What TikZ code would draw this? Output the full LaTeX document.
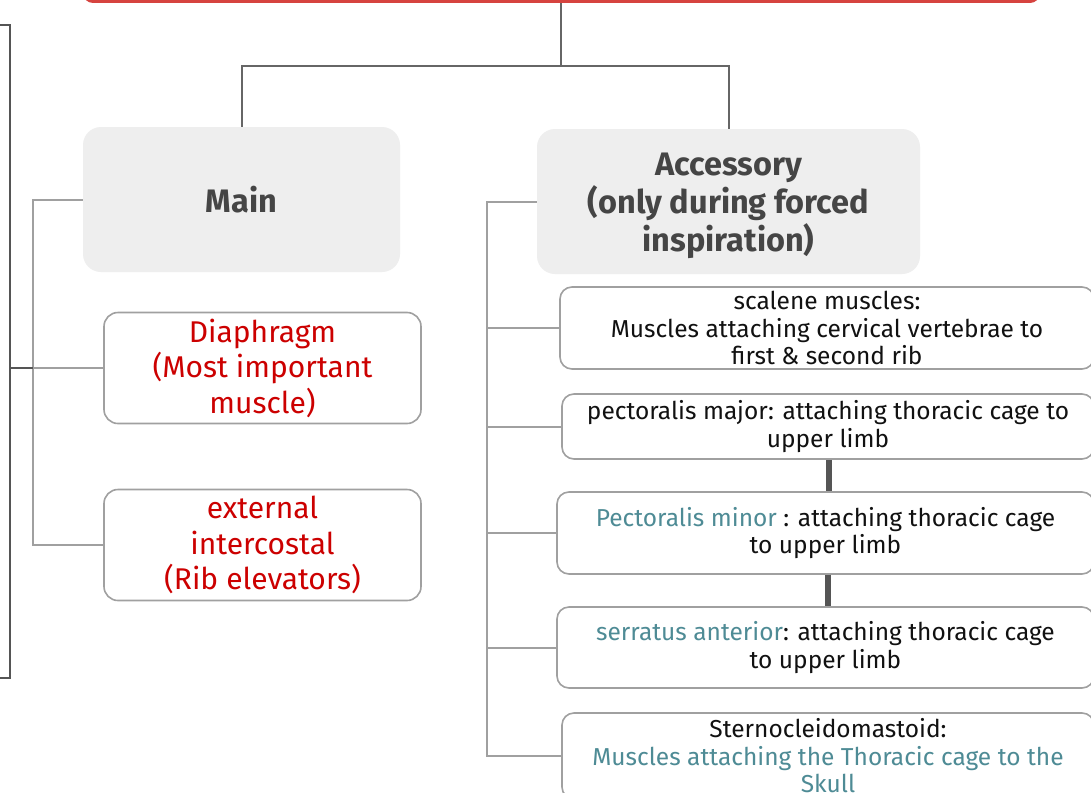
\documentclass[tikz,border=0pt]{standalone}
\usepackage{fontspec}
\setmainfont{Fira Sans}
\usetikzlibrary{calc}
\definecolor{redbar}{HTML}{D6433F}
\definecolor{headgray}{HTML}{454545}
\definecolor{boxfill}{HTML}{EEEEEE}
\definecolor{boxline}{HTML}{A0A0A0}
\definecolor{treeline}{HTML}{666666}
\definecolor{darkline}{HTML}{555555}
\definecolor{redtext}{HTML}{CC0000}
\definecolor{tealtext}{HTML}{4E8B95}
\definecolor{bodytext}{HTML}{111111}
\tikzset{
  headbox/.style={rectangle, rounded corners=18pt, fill=boxfill, draw=none,
    text=headgray, align=center, inner sep=0pt,
    font=\fontsize{32.5pt}{38pt}\selectfont\bfseries},
  redbox/.style={rectangle, rounded corners=14pt, fill=white, draw=boxline, line width=1.6pt,
    text=redtext, align=center, inner sep=0pt,
    font=\fontsize{30pt}{35.5pt}\selectfont},
  itembox/.style={rectangle, rounded corners=12pt, fill=white, draw=boxline, line width=1.6pt,
    text=bodytext, align=center, inner sep=0pt,
    font=\fontsize{24.5pt}{27.5pt}\selectfont},
  tree/.style={draw=treeline, line width=2pt},
  spine/.style={draw=boxline, line width=2pt},
  bracket/.style={draw=darkline, line width=2pt},
  thick link/.style={draw=darkline, line width=6.5pt},
}
\begin{document}
\begin{tikzpicture}[x=1pt,y=-1pt]
\useasboundingbox[fill=white] (0,0) rectangle (1091,792);

% top red bar (title box, mostly off the page)
\node[rectangle, rounded corners=10pt, fill=redbar, minimum width=957pt, minimum height=60pt, inner sep=0pt] (title) at (561.5,-27) {};

% main heads
\node[headbox, minimum width=317pt, minimum height=145pt] (main) at (241.5,199.5) {Main};
\node[headbox, minimum width=383pt, minimum height=145pt] (acc) at (728.5,201.5) {\rule{0pt}{31pt}Accessory\\(only during forced\\inspiration)};

% main muscles
\node[redbox, minimum width=317pt, minimum height=111pt] (diap) at (262.5,368) {Diaphragm\\(Most important\\muscle)};
\node[redbox, minimum width=317pt, minimum height=111pt] (ext) at (262.5,545) {external\\intercostal\\(Rib elevators)};

% accessory muscles
\node[itembox, minimum width=534pt, minimum height=82pt] (scal) at (827,328) {scalene muscles:\\Muscles attaching cervical vertebrae to\\first \& second rib};
\node[itembox, minimum width=532pt, minimum height=65pt] (pmaj) at (828,426.5) {pectoralis major: attaching thoracic cage to\\upper limb};
\node[itembox, minimum width=537pt, minimum height=82pt] (pmin) at (825.5,533) {\textcolor{tealtext}{Pectoralis minor} : attaching thoracic cage\\to upper limb};
\node[itembox, minimum width=537pt, minimum height=81pt] (serr) at (825.5,647.5) {\textcolor{tealtext}{serratus anterior}: attaching thoracic cage\\to upper limb};
\node[itembox, minimum width=532pt, minimum height=86pt] (scm) at (828,756) {Sternocleidomastoid:\\\textcolor{tealtext}{Muscles attaching the Thoracic cage to the}\\\textcolor{tealtext}{Skull}};

% tree from title
\coordinate (split) at (561,65.5);
\draw[tree] (title.south -| split) -- (split);
\draw[tree] (split) -| (main.north);
\draw[tree] (split) -| (acc.north);

% left spine
\coordinate (lsp) at (33,0);
\draw[spine] (main.west) -- (main.west -| lsp) |- (ext.west);
\draw[spine] (diap.west -| lsp) -- (diap.west);

% right spine
\coordinate (rsp) at (487,0);
\draw[spine] (acc.west) -- (acc.west -| rsp) |- (scm.west);
\draw[spine] (scal.west -| rsp) -- (scal.west);
\draw[spine] (pmaj.west -| rsp) -- (pmaj.west);
\draw[spine] (pmin.west -| rsp) -- (pmin.west);
\draw[spine] (serr.west -| rsp) -- (serr.west);

% thick links
\coordinate (tl) at (829,0);
\draw[thick link] (pmaj.south -| tl) -- (pmin.north -| tl);
\coordinate (tl2) at (828,0);
\draw[thick link] (pmin.south -| tl2) -- (serr.north -| tl2);

% left bracket
\coordinate (bt) at (0,25);
\coordinate (bb) at (0,678);
\coordinate (bx) at (10,0);
\coordinate (bm) at (10,368);
\draw[bracket] (bt) -- (bt -| bx) -- (bb -| bx) -- (bb);
\draw[bracket] (bm) -- (bm -| lsp);
\end{tikzpicture}
\end{document}
